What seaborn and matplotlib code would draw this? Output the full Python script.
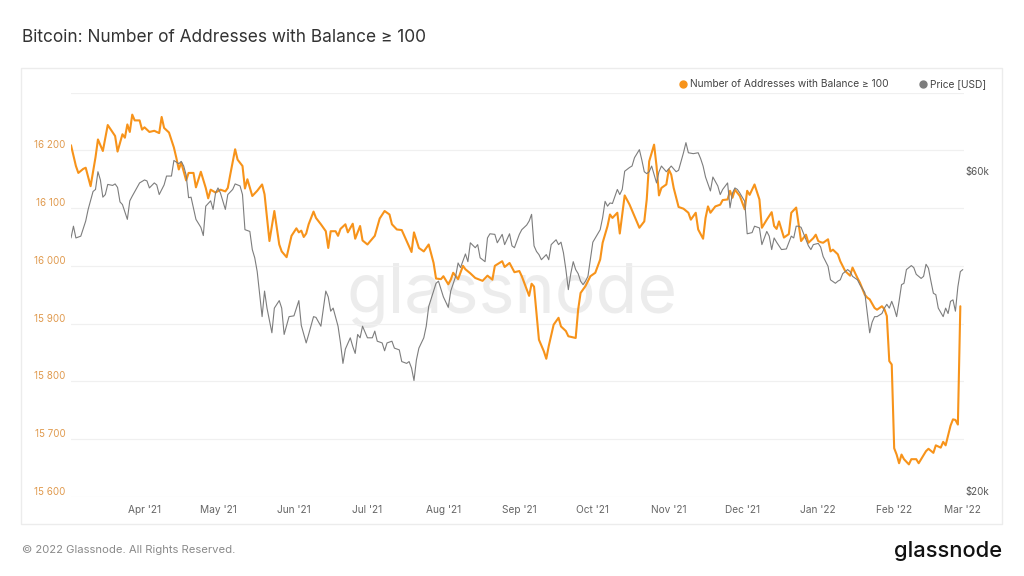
import numpy as np
import pandas as pd
import seaborn as sns
import matplotlib.pyplot as plt
import matplotlib.dates as mdates
from matplotlib.lines import Line2D
from matplotlib.patches import Rectangle
from matplotlib.ticker import FuncFormatter, NullLocator, NullFormatter

# day number counted from 2021-03-01
addr_day = [
    1, 3, 4, 6, 7, 9, 11, 12, 14, 16, 19, 20, 22, 23, 24, 25, 26, 27, 29, 30,
    31, 33, 35, 37, 38, 39, 41, 43, 44, 45, 46, 48, 49, 51, 52, 54, 56, 57, 58, 60,
    62, 64, 65, 66, 68, 69, 71, 72, 73, 75, 77, 79, 80, 82, 84, 86, 87, 89, 91, 93,
    94, 95, 96, 97, 98, 100, 101, 103, 105, 106, 107, 109, 110, 111, 113, 114, 116, 117, 119, 120,
    122, 125, 127, 129, 131, 132, 134, 136, 138, 140, 141, 143, 145, 147, 149, 150, 152, 153, 155, 156,
    157, 159, 161, 162, 164, 166, 169, 171, 173, 174, 177, 178, 180, 182, 184, 185, 188, 189, 190, 192,
    194, 195, 196, 198, 200, 201, 203, 204, 206, 207, 208, 209, 211, 213, 215, 217, 218, 220, 221, 222,
    224, 225, 226, 227, 229, 231, 233, 235, 236, 237, 239, 240, 241, 242, 244, 245, 246, 247, 249, 251,
    253, 254, 256, 257, 259, 260, 261, 262, 264, 266, 267, 269, 270, 271, 272, 274, 276, 277, 278, 280,
    282, 283, 285, 287, 288, 289, 290, 292, 294, 295, 297, 298, 299, 301, 302, 304, 305, 306, 307, 308,
    310, 311, 312, 314, 315, 317, 318, 319, 320, 322, 323, 325, 326, 327, 329, 330, 332, 333, 334, 335,
    336, 337, 338, 339, 340, 341, 343, 344, 346, 347, 348, 350, 351, 353, 354, 356, 357, 358, 360, 361,
    362, 363, 364,
]
addr_count = [
    16209, 16173, 16161, 16168, 16170, 16138, 16188, 16219, 16199, 16244, 16225, 16198, 16228, 16222, 16245, 16232, 16262, 16252, 16252, 16236,
    16240, 16232, 16234, 16230, 16258, 16239, 16231, 16205, 16187, 16167, 16179, 16148, 16161, 16161, 16136, 16163, 16135, 16117, 16132, 16127,
    16132, 16129, 16135, 16158, 16202, 16184, 16173, 16134, 16150, 16121, 16130, 16141, 16124, 16043, 16095, 16037, 16025, 16015, 16052, 16065,
    16058, 16061, 16050, 16056, 16072, 16094, 16083, 16072, 16060, 16031, 16060, 16060, 16052, 16064, 16072, 16058, 16073, 16047, 16069, 16044,
    16037, 16052, 16082, 16095, 16089, 16072, 16063, 16062, 16043, 16024, 16058, 16031, 16025, 16037, 16005, 15978, 15977, 15982, 15968, 15976,
    15988, 15977, 16000, 15994, 15987, 15979, 15974, 15983, 15976, 16000, 16008, 15998, 16005, 15989, 15991, 15982, 15948, 15969, 15964, 15872,
    15852, 15839, 15861, 15898, 15910, 15895, 15887, 15878, 15876, 15875, 15924, 15953, 15965, 15982, 15988, 16011, 16040, 16069, 16089, 16083,
    16092, 16056, 16089, 16122, 16106, 16086, 16066, 16077, 16115, 16181, 16210, 16173, 16122, 16135, 16141, 16167, 16158, 16135, 16102, 16099,
    16092, 16080, 16092, 16063, 16047, 16083, 16103, 16092, 16103, 16106, 16114, 16115, 16130, 16118, 16132, 16121, 16098, 16130, 16123, 16141,
    16115, 16066, 16080, 16093, 16069, 16064, 16077, 16049, 16055, 16092, 16101, 16072, 16043, 16054, 16040, 16048, 16054, 16043, 16041, 16040,
    16046, 16025, 16028, 16020, 16008, 15991, 15987, 15983, 15997, 15979, 15971, 15950, 15945, 15942, 15927, 15924, 15930, 15925, 15913, 15835,
    15829, 15684, 15673, 15658, 15673, 15665, 15656, 15665, 15665, 15658, 15665, 15679, 15683, 15676, 15689, 15685, 15695, 15689, 15723, 15734,
    15733, 15725, 15930,
]

price_day = [
    1, 2, 3, 5, 7, 8, 10, 11, 12, 13, 14, 15, 16, 18, 19, 20, 21, 22, 24, 25,
    26, 29, 31, 32, 33, 35, 36, 37, 39, 40, 42, 43, 45, 46, 47, 48, 49, 50, 52, 54,
    55, 56, 58, 59, 60, 61, 62, 64, 65, 67, 68, 70, 71, 72, 74, 75, 76, 77, 79, 80,
    81, 83, 84, 86, 87, 88, 90, 92, 94, 95, 97, 98, 100, 101, 103, 105, 106, 107, 108, 110,
    111, 112, 113, 115, 116, 117, 118, 119, 120, 122, 123, 124, 125, 126, 128, 129, 130, 132, 133, 135,
    136, 138, 139, 140, 141, 142, 143, 145, 146, 147, 149, 150, 151, 153, 155, 156, 158, 159, 160, 162,
    163, 164, 166, 167, 168, 170, 171, 172, 174, 175, 177, 178, 180, 181, 182, 184, 185, 187, 188, 189,
    190, 191, 192, 193, 195, 196, 197, 199, 200, 201, 202, 203, 204, 205, 206, 207, 208, 209, 210, 211,
    212, 214, 215, 217, 218, 219, 220, 221, 222, 224, 225, 226, 227, 229, 230, 231, 233, 234, 235, 236,
    237, 238, 240, 241, 242, 244, 246, 248, 249, 251, 252, 253, 255, 257, 258, 259, 260, 262, 263, 265,
    266, 267, 269, 270, 271, 272, 273, 274, 276, 277, 279, 280, 282, 283, 285, 286, 287, 288, 289, 291,
    293, 295, 296, 297, 298, 299, 301, 302, 303, 304, 306, 307, 308, 310, 311, 313, 314, 315, 316, 318,
    319, 320, 322, 323, 325, 326, 327, 328, 329, 330, 332, 333, 334, 335, 336, 337, 338, 339, 340, 341,
    342, 344, 345, 346, 348, 349, 350, 351, 352, 353, 354, 355, 357, 358, 359, 360, 361, 362, 363, 364,
    365,
]
price_k = [
    48.6, 50.6, 48.6, 48.9, 51.5, 53.6, 57.0, 57.4, 61.0, 59.3, 55.9, 56.4, 58.4, 58.2, 58.5, 57.8, 55.0, 54.5, 51.8, 55.2,
    56.1, 58.7, 59.3, 59.1, 57.7, 58.7, 58.3, 56.4, 58.3, 60.1, 60.1, 63.4, 62.7, 63.2, 62.2, 60.3, 55.8, 55.9, 51.8, 50.4,
    49.0, 54.2, 55.2, 53.6, 56.7, 57.7, 56.7, 53.6, 56.4, 57.4, 58.5, 58.1, 56.4, 50.0, 49.7, 46.7, 45.4, 43.3, 37.1, 40.5,
    38.2, 35.1, 38.2, 39.2, 38.2, 34.9, 37.1, 37.2, 39.2, 36.0, 33.9, 34.9, 37.1, 37.0, 35.9, 40.5, 39.7, 37.8, 38.2, 35.9,
    33.9, 31.6, 33.2, 34.5, 33.5, 32.7, 34.9, 34.5, 35.9, 34.5, 34.5, 34.5, 35.3, 34.1, 33.9, 33.0, 33.9, 34.1, 33.3, 33.1,
    31.8, 31.6, 31.8, 31.1, 29.8, 32.0, 33.3, 34.5, 35.9, 38.4, 40.5, 41.6, 41.9, 39.7, 38.3, 40.5, 42.6, 44.6, 43.9, 46.0,
    44.8, 47.8, 47.0, 47.5, 45.4, 44.8, 48.6, 49.3, 49.2, 47.8, 49.2, 47.5, 49.3, 47.3, 47.0, 49.2, 50.0, 50.8, 51.5, 52.7,
    47.3, 46.4, 45.9, 45.1, 45.9, 45.1, 47.5, 48.3, 47.5, 47.9, 46.2, 43.6, 40.7, 43.0, 44.8, 43.6, 43.0, 41.9, 41.4, 41.9,
    42.6, 47.9, 48.6, 50.0, 52.1, 55.1, 54.2, 54.8, 54.7, 57.4, 56.4, 57.4, 61.1, 61.9, 62.2, 64.0, 65.8, 63.5, 61.0, 60.6,
    61.0, 62.2, 58.7, 61.0, 62.2, 61.0, 62.2, 61.0, 61.3, 65.1, 67.4, 65.1, 64.9, 65.1, 63.8, 62.2, 59.9, 57.1, 59.9, 58.1,
    56.4, 57.4, 58.7, 53.9, 56.7, 57.7, 57.4, 56.7, 55.1, 49.3, 49.5, 50.6, 50.3, 47.5, 49.7, 48.9, 46.7, 48.6, 47.9, 46.7,
    46.8, 48.9, 48.6, 50.6, 50.6, 50.4, 48.3, 47.3, 46.7, 47.5, 47.7, 47.1, 45.6, 44.1, 42.1, 41.6, 41.9, 42.1, 43.0, 43.6,
    43.3, 42.6, 42.1, 41.4, 40.3, 37.6, 35.1, 36.4, 37.1, 37.1, 37.5, 38.2, 38.7, 38.2, 39.1, 38.2, 37.1, 39.1, 41.4, 41.6,
    43.6, 44.2, 43.9, 42.9, 42.3, 42.6, 44.4, 43.8, 41.9, 40.2, 40.0, 38.2, 37.1, 38.2, 37.5, 39.1, 39.3, 37.8, 41.1, 43.3,
    43.6,
]

left_ticks = [15600, 15700, 15800, 15900, 16000, 16100, 16200, 16300]
right_ticks = [20000, 60000]
right_labels = ["$20k", "$60k"]

start = pd.Timestamp("2021-03-01")
addr = pd.DataFrame({"date": start + pd.to_timedelta(addr_day, unit="D"), "count": addr_count})
price = pd.DataFrame({"date": start + pd.to_timedelta(price_day, unit="D"),
                      "price": np.array(price_k) * 1000})

sns.set_theme(style="white")
plt.rcParams["font.family"] = ["Inter", "DejaVu Sans"]

ORANGE = "#F7931A"
fig = plt.figure(figsize=(10.24, 5.76), dpi=100)
fig.patch.set_facecolor("white")

# panel frame
fig.add_artist(Rectangle((21 / 1024, 1 - 524 / 576), 981 / 1024, 456 / 576,
                         transform=fig.transFigure, fill=False, ec="#ececec", lw=1))

ax = fig.add_axes([71 / 1024, 1 - 496.7 / 576, 893 / 1024, 404 / 576])
ax.text(0.5, 0.4566, "glassnode", transform=fig.transFigure, ha="center", va="baseline",
        fontsize=49, color="#ececec", zorder=0.5)

sns.lineplot(data=addr, x="date", y="count", ax=ax, color=ORANGE, linewidth=1.5, zorder=3)
ax.set_ylim(15600, 16300)
ax.set_xlim(pd.Timestamp("2021-03-02"), pd.Timestamp("2022-03-01 12:00"))
ax.set_yticks(left_ticks)
ax.set_yticklabels([f"{v:,}".replace(",", " ") if v < 16300 else "" for v in left_ticks],
                   va="bottom")
ax.tick_params(axis="y", length=0, pad=3.8, labelsize=7, labelcolor="#E09A4E")
ax.xaxis.set_major_locator(mdates.MonthLocator())
ax.xaxis.set_major_formatter(mdates.DateFormatter("%b '%y"))
ax.tick_params(axis="x", length=3, color="#e8e8e8", pad=3, labelsize=7.3, labelcolor="#666666")
ax.grid(axis="y", color="#f0f0f0", lw=0.9)
ax.grid(axis="x", visible=False)
ax.set_xlabel("")
ax.set_ylabel("")
for s in ax.spines.values():
    s.set_visible(False)

ax2 = ax.twinx()
sns.lineplot(data=price, x="date", y="price", ax=ax2, color="#7d7d7d", linewidth=0.8)
ax2.set_yscale("log")
ax2.set_ylim(20000, 80000)
ax2.set_yticks(right_ticks)
ax2.set_yticklabels(right_labels, va="bottom")
ax2.yaxis.set_minor_locator(NullLocator())
ax2.yaxis.set_minor_formatter(NullFormatter())
ax2.tick_params(axis="y", length=0, pad=1, labelsize=7, labelcolor="#555555")
ax2.set_xlim(ax.get_xlim())
ax2.set_ylabel("")
for s in ax2.spines.values():
    s.set_visible(False)

# title, legend, footer
fig.text(21.5 / 1024, 1 - 42.3 / 576, "Bitcoin: Number of Addresses with Balance \u2265 100",
         fontsize=12.45, color="#333333", va="baseline", ha="left")
ly = 1 - 84.3 / 576
fig.add_artist(Line2D([682.7 / 1024], [ly], marker="o", ms=5, color=ORANGE, mec=ORANGE,
                      transform=fig.transFigure))
fig.text(690.3 / 1024, ly, "Number of Addresses with Balance \u2265 100", fontsize=7.33,
         color="#444444", va="center", ha="left")
fig.add_artist(Line2D([923 / 1024], [ly], marker="o", ms=5, color="#7d7d7d", mec="#7d7d7d",
                      transform=fig.transFigure))
fig.text(930.3 / 1024, ly, "Price [USD]", fontsize=7.33, color="#444444", va="center", ha="left")

fig.text(21.5 / 1024, 1 - 550 / 576, "\u00a9 2022 Glassnode. All Rights Reserved.", fontsize=8.1,
         color="#8a8a8a", va="center", ha="left")
fig.text(1002 / 1024, 1 - 556.7 / 576, "glassnode", fontsize=15.8, color="#111111",
         fontweight="medium", va="baseline", ha="right")

fig.savefig("out.png", dpi=100, facecolor="white")
